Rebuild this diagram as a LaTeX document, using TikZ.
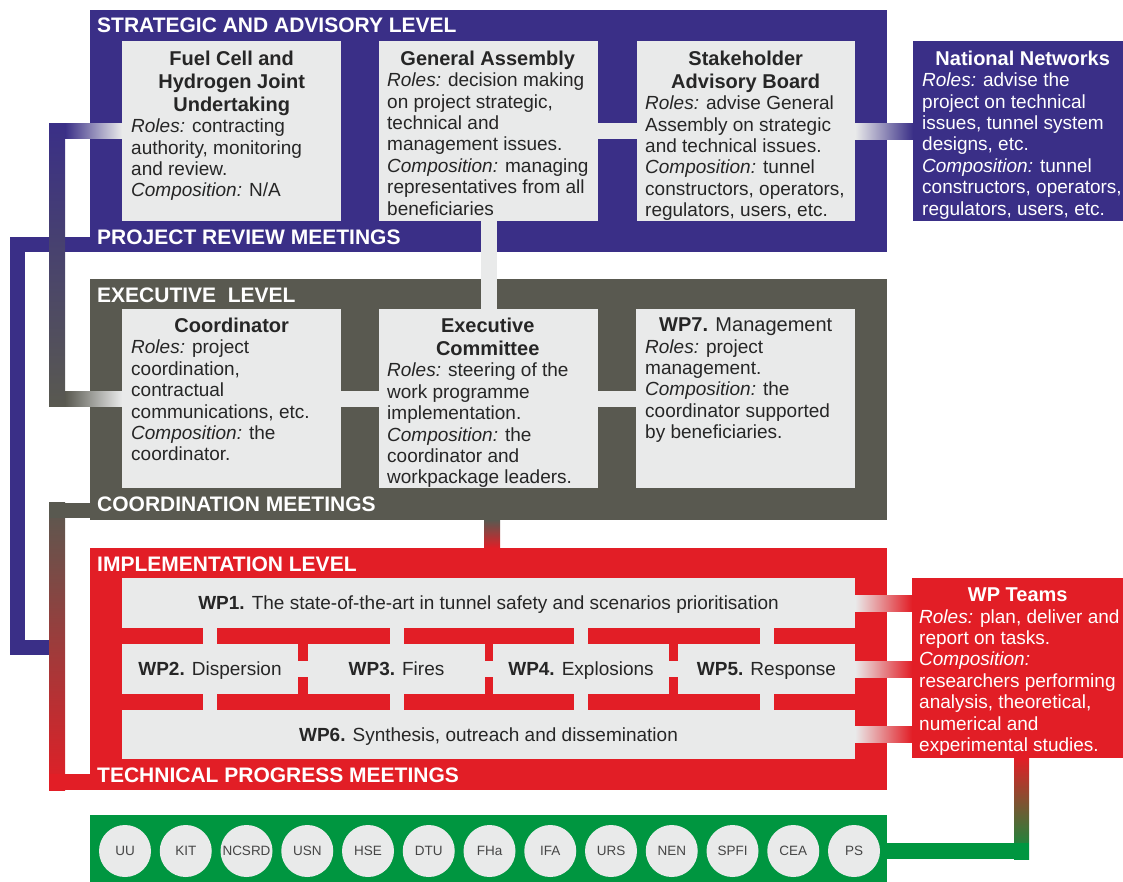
\documentclass[tikz,border=0pt]{standalone}
\usepackage{fontspec}
\setmainfont{Liberation Sans}
\usetikzlibrary{calc}
\definecolor{sblue}{RGB}{58,47,135}
\definecolor{sgray}{RGB}{89,89,80}
\definecolor{sred}{RGB}{226,30,38}
\definecolor{sgreen}{RGB}{0,150,64}
\definecolor{boxg}{RGB}{233,234,234}
\definecolor{txt}{RGB}{38,38,38}
\definecolor{ctext}{RGB}{70,70,70}
\newcommand{\boxtitle}[2][201pt]{\makebox[#1][c]{\fontsize{20}{23}\selectfont\bfseries #2}}
\tikzset{
  lvl/.style={rectangle, inner sep=0pt, outer sep=0pt, anchor=north west},
  ibox/.style={rectangle, fill=boxg, inner sep=0pt, outer sep=0pt, anchor=north west},
  btext/.style={anchor=north west, inner sep=0pt, align=left, text=txt, font=\fontsize{19}{21.4}\selectfont},
  lvllab/.style={anchor=base west, inner sep=0pt, text=white, font=\fontsize{21}{24}\selectfont\bfseries},
  wpbox/.style={ibox, text=txt, font=\fontsize{19}{21.4}\selectfont, text height=13.7pt, text depth=0pt},
  partner/.style={circle, fill=boxg, minimum size=52pt, inner sep=0pt, text=ctext, font=\fontsize{13.5}{16}\selectfont},
  bridge/.style={draw=boxg, line width=16pt},
}
\begin{document}
\begin{tikzpicture}[x=1pt,y=-1pt]
\useasboundingbox (0,0) rectangle (1123,881);

% level boxes
\node[lvl, fill=sblue, minimum width=797pt, minimum height=242pt] (strat) at (90,10) {};
\node[lvl, fill=sgray, minimum width=797pt, minimum height=241pt] (exec) at (90,279) {};
\node[lvl, fill=sred, minimum width=797pt, minimum height=242pt] (impl) at (90,548) {};
\node[lvl, fill=sgreen, minimum width=797pt, minimum height=72pt] (partners) at (90,815) {};

% inner boxes
\node[ibox, minimum width=219pt, minimum height=180pt] (fc) at (122,41) {};
\node[ibox, minimum width=219pt, minimum height=180pt] (ga) at (379,41) {};
\node[ibox, minimum width=218pt, minimum height=180pt] (sab) at (637,41) {};
\node[ibox, fill=sblue, minimum width=219pt, minimum height=180pt] (nn) at (913,41) {};
\node[ibox, minimum width=219pt, minimum height=179pt] (coord) at (122,309) {};
\node[ibox, minimum width=219pt, minimum height=179pt] (ec) at (379,309) {};
\node[ibox, minimum width=219pt, minimum height=179pt] (wp7) at (636,309) {};

\node[wpbox, minimum width=733pt, minimum height=50pt] (wp1) at (122,578) {\textbf{WP1.} The state-of-the-art in tunnel safety and scenarios prioritisation};
\node[wpbox, minimum width=176pt, minimum height=50pt] (wp2) at (122,644) {\textbf{WP2.} Dispersion};
\node[wpbox, minimum width=177pt, minimum height=50pt] (wp3) at (308,644) {\textbf{WP3.} Fires};
\node[wpbox, minimum width=176pt, minimum height=50pt] (wp4) at (493,644) {\textbf{WP4.} Explosions};
\node[wpbox, minimum width=177pt, minimum height=50pt] (wp5) at (678,644) {\textbf{WP5.} Response};
\node[wpbox, minimum width=733pt, minimum height=49pt] (wp6) at (122,710) {\textbf{WP6.} Synthesis, outreach and dissemination};
\node[ibox, fill=sred, minimum width=211pt, minimum height=180pt] (wpt) at (912,578) {};

% partner circles
\foreach \n [count=\i from 0] in {UU,KIT,NCSRD,USN,HSE,DTU,FHa,IFA,URS,NEN,SPFI,CEA,PS}
  \node[partner] (p\i) at (125+\i*60.75, 851) {\n};

% ---- connectors ----
% project review meetings (blue)
\coordinate (fcL) at ($(fc.west)+(-65,0)$);
\coordinate (coL) at ($(coord.west)+(-65,0)$);
\coordinate (prm) at ($(strat.south west)+(0,-8)$);
\coordinate (jn) at ($(coL)+(0,249)$);
\draw[sblue, line width=15pt] (prm) -| ($(jn)+(-40,0)$) -- (jn);

% FCH JU -> coordinator
\shade[top color=sblue, bottom color=sgray] ($(fcL)+(-8,-7.5)$) rectangle ($(coL)+(8,7.5)$);
\shade[left color=sblue, right color=boxg] ($(fcL)+(8,-7.5)$) rectangle ($(fc.west)+(0,7.5)$);
\shade[left color=sgray, right color=boxg] ($(coL)+(8,-7.5)$) rectangle ($(coord.west)+(0,7.5)$);

% coordination meetings -> technical progress meetings
\coordinate (cm) at ($(exec.south west)+(0,-10)$);
\coordinate (tp) at ($(impl.south west)+(0,-8)$);
\shade[top color=sgray, bottom color=sred] ($(cm)+(-41,-7.5)$) rectangle ($(tp)+(-25,8)$);
\fill[sgray] ($(cm)+(-41,-7.5)$) rectangle ($(cm)+(0,7.5)$);
\fill[sred] ($(tp)+(-41,-8)$) rectangle ($(tp)+(0,8)$);

% light bridges
\draw[bridge] (ga.east) -- (sab.west);
\draw[bridge] (ga.south) -- (ec.north);
\draw[bridge] (coord.east) -- (ec.west);
\draw[bridge] (ec.east) -- (wp7.west);
\shade[left color=boxg, right color=sblue] ($(sab.east)+(0,-8)$) rectangle ($(nn.west)+(0,8)$);

% executive -> implementation
\coordinate (ei1) at (ec.south |- exec.south);
\coordinate (ei2) at (ec.south |- impl.north);
\shade[top color=sgray, bottom color=sred] ($(ei1)+(-4.5,0)$) rectangle ($(ei2)+(11.5,0)$);

% implementation bridges
\foreach \w in {wp2,wp3,wp4,wp5} {
  \draw[bridge, line width=14pt] (\w.north |- wp1.south) -- (\w.north);
  \draw[bridge, line width=14pt] (\w.south) -- (\w.south |- wp6.north);
}
\draw[bridge] (wp2.east) -- (wp3.west);
\draw[bridge] (wp3.east) -- (wp4.west);
\draw[bridge] (wp4.east) -- (wp5.west);

% WPs -> WP teams
\foreach \w in {wp1,wp5,wp6} {
  \coordinate (tmp) at (\w.east -| wpt.west);
  \shade[left color=boxg, right color=sred] ($(\w.east)+(0,-8)$) rectangle ($(tmp)+(0,8)$);
}

% WP teams -> partners
\coordinate (wtb) at ($(wpt.south)+(4,0)$);
\coordinate (pc) at (wtb |- partners.east);
\shade[top color=sred, bottom color=sgreen] ($(wtb)+(-7.5,0)$) rectangle ($(pc)+(7.5,8)$);
\fill[sgreen] ($(partners.east)+(0,-8)$) rectangle ($(pc)+(7.5,8)$);

% ---- level labels ----
\node[lvllab] (l-strat) at (97,32) {STRATEGIC AND ADVISORY LEVEL};
\node[lvllab] (l-prm) at (97,244) {PROJECT REVIEW MEETINGS};
\node[lvllab] (l-exec) at (97,302) {EXECUTIVE~~LEVEL};
\node[lvllab] (l-cm) at (97,511) {COORDINATION MEETINGS};
\node[lvllab] (l-impl) at (97,571) {IMPLEMENTATION LEVEL};
\node[lvllab] (l-tp) at (97,782) {TECHNICAL PROGRESS MEETINGS};

% ---- box texts ----
\node[btext] (fc-t) at ($(fc.north west)+(9,9.7)$) {\boxtitle{Fuel Cell and}\\[1.6pt]\boxtitle{Hydrogen Joint}\\[1.6pt]\boxtitle{Undertaking}\\\textit{Roles:} contracting\\authority, monitoring\\and review.\\\textit{Composition:} N/A};
\node[btext] (ga-t) at ($(ga.north west)+(8,9.7)$) {\boxtitle{General Assembly}\\\textit{Roles:} decision making\\on project strategic,\\technical and\\management issues.\\\textit{Composition:} managing\\representatives from all\\beneficiaries};
\node[btext] (sab-t) at ($(sab.north west)+(8,9.7)$) {\boxtitle{Stakeholder}\\[1.6pt]\boxtitle{Advisory Board}\\\textit{Roles:} advise General\\Assembly on strategic\\and technical issues.\\\textit{Composition:} tunnel\\constructors, operators,\\regulators, users, etc.};
\node[btext, text=white] (nn-t) at ($(nn.north west)+(9,9.7)$) {\boxtitle{National Networks}\\\textit{Roles:} advise the\\project on technical\\issues, tunnel system\\designs, etc.\\\textit{Composition:} tunnel\\constructors, operators,\\regulators, users, etc.};
\node[btext] (coord-t) at ($(coord.north west)+(9,8.7)$) {\boxtitle{Coordinator}\\\textit{Roles:} project\\coordination,\\contractual\\communications, etc.\\\textit{Composition:} the\\coordinator.};
\node[btext] (ec-t) at ($(ec.north west)+(8,8.7)$) {\boxtitle{Executive}\\[1.6pt]\boxtitle{Committee}\\\textit{Roles:} steering of the\\work programme\\implementation.\\\textit{Composition:} the\\coordinator and\\workpackage leaders.};
\node[btext] (wp7-t) at ($(wp7.north west)+(9,8.7)$) {\boxtitle{WP7. {\mdseries Management}}\\\textit{Roles:} project\\management.\\\textit{Composition:} the\\coordinator supported\\by beneficiaries.};
\node[btext, text=white] (wpt-t) at ($(wpt.north west)+(7,9.7)$) {\boxtitle[197pt]{WP Teams}\\\textit{Roles:} plan, deliver and\\report on tasks.\\\textit{Composition:}\\researchers performing\\analysis, theoretical,\\numerical and\\experimental studies.};
\end{tikzpicture}
\end{document}
